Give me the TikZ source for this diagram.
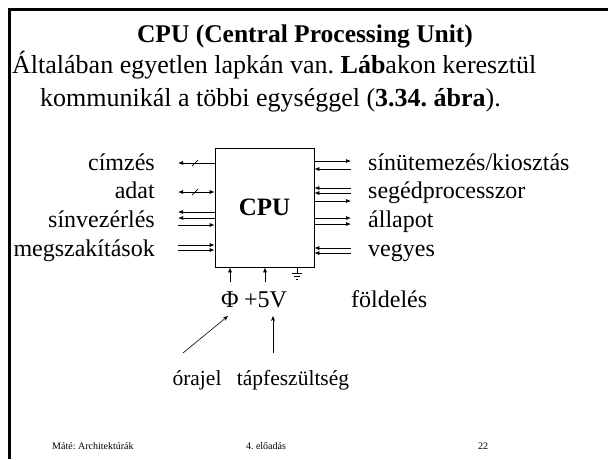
\documentclass[tikz,border=0pt]{standalone}
\usepackage{fontspec}
\setmainfont{Liberation Serif}
\usetikzlibrary{arrows.meta}
\frenchspacing
\begin{document}
\begin{tikzpicture}[x=1pt,y=-1pt,
  wire/.style={line width=0.7pt},
  sigout/.style={wire,-{Latex[length=5pt,width=4pt]}},
  sigboth/.style={wire,{Latex[length=5pt,width=4pt]}-{Latex[length=5pt,width=4pt]}},
  pinlabel/.style={font=\fontsize{24}{28}\selectfont, inner sep=0pt},
  notelabel/.style={font=\fontsize{21.5}{26}\selectfont, inner sep=0pt},
  bodytext/.style={font=\fontsize{26}{30}\selectfont, inner sep=0pt},
  foot/.style={font=\fontsize{10}{12}\selectfont, inner sep=0pt},
  callout/.style={line width=0.6pt,-{Stealth[length=5pt,width=4pt]}}]
\useasboundingbox (0,0) rectangle (608,459);
% slide frame (top and left edges)
\draw[line width=3pt] (9,459) -- (9,9) -- (608,9);

% heading and text
\node[bodytext, font=\bfseries\fontsize{25.5}{30}\selectfont, anchor=base] (title) at (305,42) {CPU (Central Processing Unit)};
\node[bodytext, anchor=base west] (line1) at (12,73) {Általában egyetlen lapkán van. \textbf{Láb}akon keresztül};
\node[bodytext, anchor=base west] (line2) at (40,106) {kommunikál a többi egységgel (\textbf{3.34. ábra}).};

% the processor chip
\node[draw, wire, minimum width=99pt, minimum height=119pt, inner sep=0pt,
      font=\bfseries\fontsize{25}{30}\selectfont] (cpu) at (264.5,207.5) {CPU};

% left side pins
\coordinate (a1) at (178,163);
\coordinate (a2) at (178,192);
\coordinate (a3) at (178,212);
\coordinate (a4) at (178,218);
\coordinate (a5) at (178,225);
\coordinate (a6) at (178,245);
\coordinate (a7) at (178,250);
\draw[sigout] (cpu.west |- a1) -- (a1);
\draw[wire] ([xshift=14pt,yshift=-3pt]a1) -- ([xshift=20pt,yshift=3pt]a1);
\draw[sigboth] (a2) -- (cpu.west |- a2);
\draw[wire] ([xshift=14pt,yshift=-3pt]a2) -- ([xshift=20pt,yshift=3pt]a2);
\draw[sigout] (cpu.west |- a3) -- (a3);
\draw[sigout] (cpu.west |- a4) -- (a4);
\draw[sigout] (a5) -- (cpu.west |- a5);
\draw[sigout] (a6) -- (cpu.west |- a6);
\draw[sigout] (a7) -- (cpu.west |- a7);

\node[pinlabel, anchor=base east] (cimzes) at (155,170) {címzés};
\node[pinlabel, anchor=base east] (adat) at (155,198) {adat};
\node[pinlabel, anchor=base east] (sinvez) at (155,227) {sínvezérlés};
\node[pinlabel, anchor=base east] (megsz) at (155,256) {megszakítások};

% right side pins
\coordinate (b1) at (351,161);
\coordinate (b2) at (351,169);
\coordinate (b3) at (351,188);
\coordinate (b4) at (351,193);
\coordinate (b5) at (351,201);
\coordinate (b6) at (351,218);
\coordinate (b7) at (351,224);
\coordinate (b8) at (351,248);
\coordinate (b9) at (351,253);
\draw[sigout] (cpu.east |- b1) -- (b1);
\draw[sigout] (b2) -- (cpu.east |- b2);
\draw[sigout] (b3) -- (cpu.east |- b3);
\draw[sigout] (b4) -- (cpu.east |- b4);
\draw[sigout] (cpu.east |- b5) -- (b5);
\draw[sigout] (cpu.east |- b6) -- (b6);
\draw[sigout] (cpu.east |- b7) -- (b7);
\draw[sigout] (b8) -- (cpu.east |- b8);
\draw[sigout] (b9) -- (cpu.east |- b9);

\node[pinlabel, anchor=base west] (sinut) at (368,170) {sínütemezés/kiosztás};
\node[pinlabel, anchor=base west] (seged) at (368,198) {segédprocesszor};
\node[pinlabel, anchor=base west] (allapot) at (368,227) {állapot};
\node[pinlabel, anchor=base west] (vegyes) at (368,256) {vegyes};

% bottom pins: clock, supply, ground
\coordinate (c1) at (230,282);
\coordinate (c2) at (265,282);
\draw[sigout] (c1) -- (cpu.south -| c1);
\draw[sigout] (c2) -- (cpu.south -| c2);
\coordinate (g) at (297,273);
\draw[wire] (cpu.south -| g) -- (g);
\draw[wire] ([xshift=-5pt]g) -- ([xshift=5pt]g);
\draw[wire] ([xshift=-3pt,yshift=-3pt]g) -- ([xshift=3pt,yshift=-3pt]g);
\draw[wire] ([xshift=-1pt,yshift=-6pt]g) -- ([xshift=1pt,yshift=-6pt]g);

\node[pinlabel, anchor=base] (phi) at (230,307) {Φ};
\node[pinlabel, anchor=base west] (plus5) at (244,307) {+5V};
\node[pinlabel, anchor=base west] (fold) at (351,307) {földelés};

\node[notelabel, anchor=base] (oraj) at (197,385) {órajel};
\node[notelabel, anchor=base] (tap) at (293,385) {tápfeszültség};
\coordinate (o1) at (183,353);
\coordinate (t1) at (273,353);
\draw[callout] (o1) -- (228,316);
\draw[callout] (t1) -- (273,316);

% footer
\node[foot, anchor=base west] (f1) at (52,449) {Máté: Architektúrák};
\node[foot, anchor=base] (f2) at (266,449) {4. előadás};
\node[foot, anchor=base] (f3) at (483,449) {22};
\end{tikzpicture}
\end{document}
